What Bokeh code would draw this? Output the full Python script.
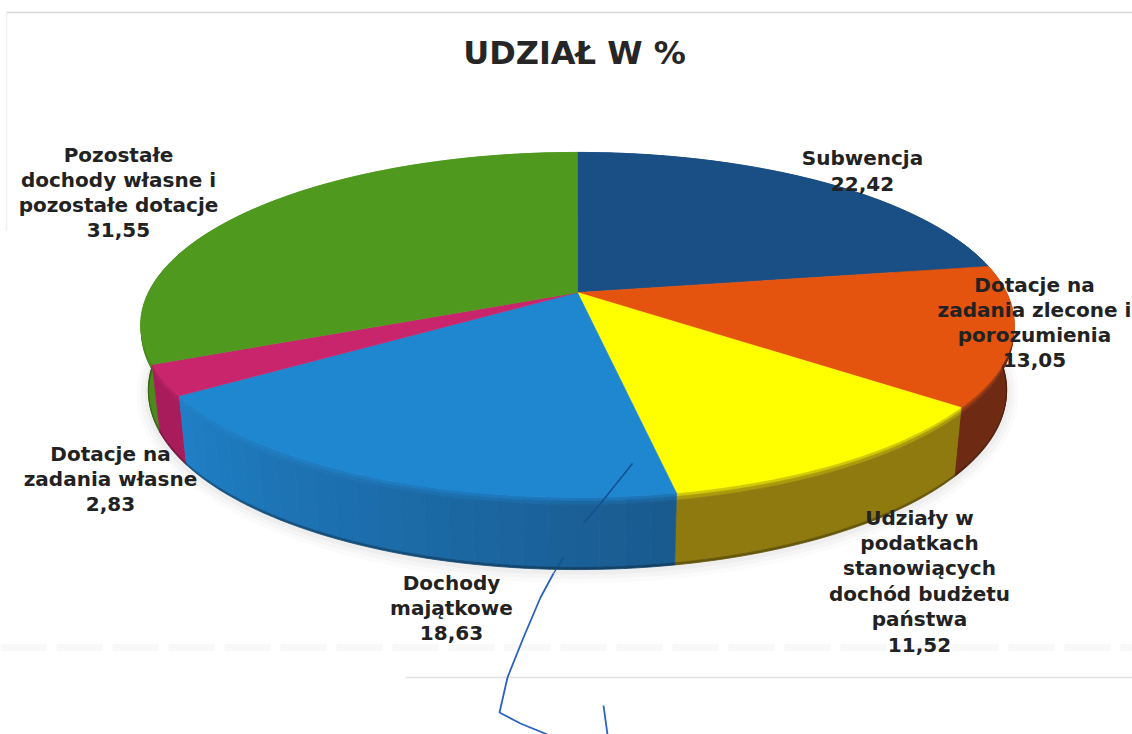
import math
from bokeh.plotting import figure
from bokeh.models import ColumnDataSource, Range1d
from bokeh.core.properties import value
from bokeh.embed import file_html
from bokeh.resources import INLINE

# data
categories = [
    ["Subwencja"],
    ["Dotacje na", "zadania zlecone i", "porozumienia"],
    ["Udziały w", "podatkach", "stanowiących", "dochód budżetu", "państwa"],
    ["Dochody", "majątkowe"],
    ["Dotacje na", "zadania własne"],
    ["Pozostałe", "dochody własne i", "pozostałe dotacje"],
]
values = [22.42, 13.05, 11.52, 18.63, 2.83, 31.55]
value_labels = ["22,42", "13,05", "11,52", "18,63", "2,83", "31,55"]
title = "UDZIAŁ W %"

top_colors = ["#1a4f86", "#e5540f", "#ffff00", "#1f86d0", "#c9256c", "#4f9a1e"]
side_start = ["#16416e", "#6e2a12", "#8f7a10", "#195a8e", "#a81c5c", "#4c8a1c"]
side_end = ["#16416e", "#6e2a12", "#8f7a10", "#1f7fc6", "#a81c5c", "#4c8a1c"]

# label layout: centre x, first-line y, per-category
label_cx = [862, 1034, 919, 451, 110, 118]
label_y = [157, 284, 517, 582, 453, 154]
line_step = [26, 25, 25.4, 25, 25, 25]

# pie geometry
CX, CY = 577, 292
A, B, K = 429, 166.4, 0.188
DEPTH, BOT_SY, BOT_SX = 66, 1.03, 0.982


def top_pt(theta):
    X, Y = math.sin(theta), math.cos(theta)
    d = 1 + K * Y
    return CX + A * X / d, CY - B * Y / d


def bot_pt(theta, t=1.0):
    x, y = top_pt(theta)
    bx = CX + (x - CX) * BOT_SX
    by = CY + DEPTH + (y - CY) * BOT_SY
    return x + (bx - x) * t, y + (by - y) * t


def hex2rgb(c):
    return [int(c[i:i + 2], 16) for i in (1, 3, 5)]


def mix(a, b, t):
    ra, rb = hex2rgb(a), hex2rgb(b)
    return "#%02x%02x%02x" % tuple(round(u + (v - u) * t) for u, v in zip(ra, rb))


total = sum(values)
edges = [0]
for v in values:
    edges.append(edges[-1] + v / total * 2 * math.pi)

p = figure(width=1132, height=734, output_backend="svg", toolbar_location=None,
           x_range=Range1d(0, 1132), y_range=Range1d(734, 0), min_border=0,
           outline_line_color=None, background_fill_color="white", border_fill_color="white")
p.axis.visible = False
p.grid.visible = False

# faint scan frame lines and bleed-through
p.line([6, 1132], [12, 12], line_color="#d8d8d8", line_width=1.5)
p.line([6, 6], [12, 230], line_color="#f0f0f0", line_width=1.5)
p.line([405, 1132], [677, 677], line_color="#e2e2e2", line_width=1.5)
p.line([0, 1132], [647, 647], line_color="#f8f8f8", line_width=7, line_dash="46 10")

# soft shadow
for grow, alpha in [(12, 0.03), (8, 0.04), (4, 0.05)]:
    sx, sy = [], []
    for i in range(181):
        th = i * 2 * math.pi / 180
        x, y = bot_pt(th)
        sx.append(CX + (x - CX) * (1 + grow / 430))
        sy.append(CY + DEPTH + (y - CY - DEPTH) * (1 + grow / 200) + 1)
    p.patch(sx, sy, fill_color="#707070", fill_alpha=alpha, line_color=None)

# side wall, back to front
STEP = 2 * math.pi / 300
LAYERS = [(0.0, 0.05, 0.4), (0.05, 0.1, 0.75), (0.1, 0.97, 1.0), (0.97, 1.0, 1.15)]
chunks = []
for k in range(len(values)):
    a0, a1 = edges[k], edges[k + 1]
    n = 24 if side_start[k] != side_end[k] else 1
    for j in range(n):
        t0, t1 = a0 + (a1 - a0) * j / n, a0 + (a1 - a0) * (j + 1) / n
        base = mix(side_start[k], side_end[k], (j + 0.5) / n)
        m = max(2, int((t1 - t0) / STEP))
        ths = [t0 + (t1 - t0) * i / m for i in range(m + 1)]
        for (u0, u1, w) in LAYERS:
            c = mix(top_colors[k], base, w) if w <= 1 else mix(base, "#000000", 0.3)
            pts = [bot_pt(t, u0) for t in ths] + [bot_pt(t, u1) for t in reversed(ths)]
            chunks.append((math.cos((t0 + t1) / 2), [q[0] for q in pts], [q[1] for q in pts], c))
chunks.sort(key=lambda q: -q[0])
p.patches([q[1] for q in chunks], [q[2] for q in chunks], fill_color=[q[3] for q in chunks],
          line_color=[q[3] for q in chunks], line_width=0.8)

# top face
xs, ys = [], []
for k in range(len(values)):
    a0, a1 = edges[k], edges[k + 1]
    n = max(8, int((a1 - a0) / STEP))
    rim = [top_pt(a0 + (a1 - a0) * j / n) for j in range(n + 1)]
    xs.append([CX] + [q[0] for q in rim])
    ys.append([CY] + [q[1] for q in rim])
p.patches(xs, ys, fill_color=top_colors, line_color=top_colors, line_width=0.6)

# pen marks on the scan
pen_dark_x = [632, 600, 583]
pen_dark_y = [463, 503, 523]
pen_mid_x = [563, 553]
pen_mid_y = [557, 573]
pen_x = [553, 540, 523, 507, 499, 520, 547]
pen_y = [573, 597, 637, 677, 712, 723, 734]
pen2_x = [603, 607]
pen2_y = [705, 734]
p.line(pen_dark_x, pen_dark_y, line_color="#14508f", line_width=1.5)
p.line(pen_mid_x, pen_mid_y, line_color="#154f88", line_width=1.2)
p.line(pen_x, pen_y, line_color="#2a62c4", line_width=1.8)
p.line(pen2_x, pen2_y, line_color="#2a62c4", line_width=1.8)

# texts
tx, ty, tt = [], [], []
for cat, val, cx, y0, st in zip(categories, value_labels, label_cx, label_y, line_step):
    for i, line in enumerate(cat + [val]):
        tx.append(cx)
        ty.append(y0 + i * st)
        tt.append(line)
src = ColumnDataSource(dict(x=tx, y=ty, t=tt))
p.text("x", "y", text="t", source=src, text_font=value("DejaVu Sans"), text_font_style="bold",
       text_font_size="20px", text_color="#222222", text_align="center", text_baseline="middle")
p.text([574], [52], text=[title], text_font=value("DejaVu Sans"), text_font_style="bold",
       text_font_size="32px", text_color="#262626", text_align="center", text_baseline="middle")

open("out.html", "w").write(file_html(p, INLINE))
